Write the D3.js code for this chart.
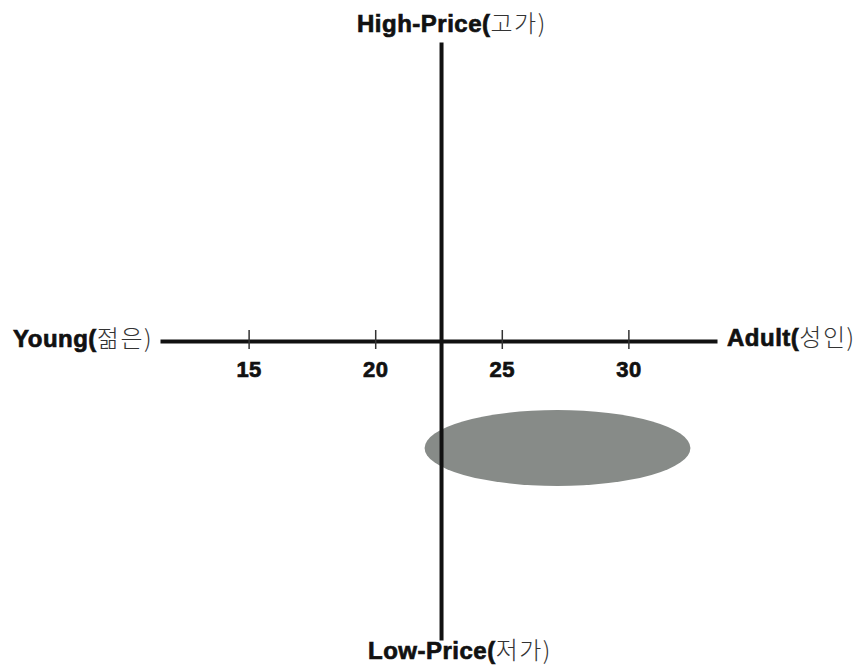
<!DOCTYPE html>
<html>
<head>
<meta charset="utf-8">
<script src="https://cdn.jsdelivr.net/npm/d3@7"></script>
<style>
  body { margin: 0; background: #fff; }
  .lat { font-family: "Liberation Sans", Arial, sans-serif; font-weight: bold; fill: #111; stroke: #111; stroke-width: 0.7px; letter-spacing: 0.5px; }
  .kor { font-family: "Noto Sans CJK KR", sans-serif; font-weight: 300; fill: #333; stroke: none; letter-spacing: 1.5px; }
</style>
</head>
<body>
<svg id="chart" width="863" height="671"></svg>
<script>
// age axis
const ageTicks = [15, 20, 25, 30];
const ageDomain = [11.5, 33.5];
const crossAge = 22.6;          // where the price axis crosses
// price axis (no tick values, -1 low .. 1 high)
const priceDomain = [-1, 1];
// axis end labels: [latin, korean]
const labelTop = ['High-Price(', '고가)'];
const labelBottom = ['Low-Price(', '저가)'];
const labelLeft = ['Young(', '젊은)'];
const labelRight = ['Adult(', '성인)'];
// target segment ellipse (age centre, age radius, price centre, price radius)
const segment = [{ age: 27.2, ageR: 5.25, price: -0.358, priceR: 0.127 }];

const svg = d3.select('#chart');

const x = d3.scaleLinear().domain(ageDomain).range([160, 717]);
const y = d3.scaleLinear().domain(priceDomain).range([640, 42]);

// ellipse
svg.selectAll('ellipse')
  .data(segment)
  .join('ellipse')
  .attr('cx', d => x(d.age))
  .attr('cy', d => y(d.price))
  .attr('rx', d => x(d.age + d.ageR) - x(d.age))
  .attr('ry', d => y(d.price - d.priceR) - y(d.price))
  .attr('fill', '#878b88');

// horizontal axis
const gx = svg.append('g')
  .attr('transform', `translate(0,${y(0)})`)
  .call(d3.axisBottom(x).tickValues(ageTicks).tickSizeOuter(0).tickPadding(14));

gx.select('.domain').attr('stroke', '#111').attr('stroke-width', 4);
gx.selectAll('.tick line')
  .attr('y1', -11).attr('y2', 8)
  .attr('stroke', '#333').attr('stroke-width', 1.5);
gx.selectAll('.tick text')
  .attr('class', 'lat')
  .attr('font-size', 22)
  .attr('dy', '0.71em');

// vertical axis
const gy = svg.append('g')
  .attr('transform', `translate(${x(crossAge)},0)`)
  .call(d3.axisLeft(y).tickValues([]).tickSizeOuter(0));
gy.select('.domain').attr('stroke', '#111').attr('stroke-width', 4);

// end labels
function addLabel(parts, px, py) {
  const t = svg.append('text').attr('x', px).attr('y', py).attr('font-size', 24);
  t.append('tspan').attr('class', 'lat').text(parts[0]);
  t.append('tspan').attr('class', 'kor').text(parts[1]);
}
addLabel(labelTop, 357, 32);
addLabel(labelBottom, 368, 659);
addLabel(labelLeft, 13, 347);
addLabel(labelRight, 727, 346);
</script>
</body>
</html>
